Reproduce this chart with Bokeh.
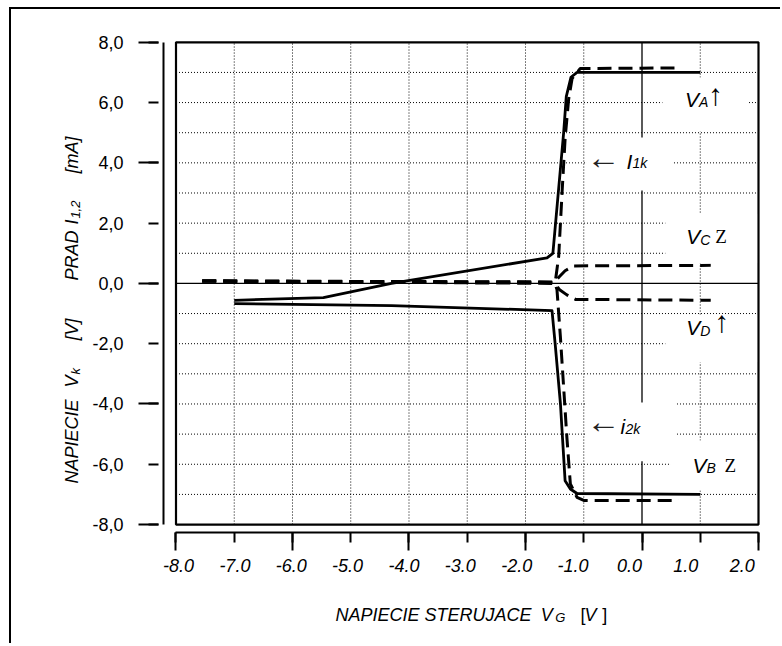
import math
from bokeh.plotting import figure
from bokeh.models import LinearAxis, FixedTicker, Range1d, Label, BoxAnnotation
from bokeh.embed import file_html
from bokeh.resources import INLINE

# ---------------- data ----------------
x_ticks = [-8, -7, -6, -5, -4, -3, -2, -1, 0, 1, 2]
x_tick_labels = ["-8.0", "-7.0", "-6.0", "-5.0", "-4.0", "-3.0", "-2.0", "-1.0", "0.0", "1.0", "2.0"]
x_long_ticks = [-8, -6, -4, -2, 0, 2]
y_ticks = [8, 6, 4, 2, 0, -2, -4, -6, -8]
y_tick_labels = ["8,0", "6,0", "4,0", "2,0", "0,0", "-2,0", "-4,0", "-6,0", "-8,0"]
y_long_ticks = [8, 4, 0, -4, -8]
grid_x = [-7, -6, -5, -4, -3, -2, -1, 1]
grid_y = [7, 6, 5, 4, 3, 2, 1, -1, -2, -3, -4, -5, -6, -7]

# solid: currents I1k, i2k  (mA)
i1k_vg = [-7.0, -5.47, -4.3, -1.63, -1.53, -1.345, -1.30, -1.22, -1.115, 1.0]
i1k_val = [-0.56, -0.47, 0.0, 0.85, 1.0, 5.0, 6.2, 6.84, 7.0, 7.0]
i2k_vg = [-7.0, -4.3, -1.545, -1.49, -1.40, -1.32, -1.23, -1.115, 1.0]
i2k_val = [-0.67, -0.74, -0.9, -2.02, -4.0, -6.55, -6.82, -6.97, -7.0]
# dashed: voltages VA, VB, VC, VD (V)
va_vg = [-7.55, -1.49, -1.43, -1.37, -1.32, -1.26, -1.2, -1.06, 0.63]
va_val = [0.08, 0.03, 0.9, 3.1, 4.8, 6.1, 6.8, 7.13, 7.15]
vb_vg = [-7.55, -1.5, -1.46, -1.40, -1.345, -1.29, -1.23, -1.115, -1.0, 0.63]
vb_val = [0.08, 0.03, -0.2, -1.8, -3.45, -5.1, -6.65, -7.1, -7.2, -7.2]
vc_vg = [-7.55, -1.5, -1.42, -1.32, -1.17, 1.18]
vc_val = [0.08, 0.05, 0.22, 0.42, 0.58, 0.6]
vd_vg = [-7.55, -1.5, -1.42, -1.29, -1.14, 1.18]
vd_val = [0.08, 0.0, -0.2, -0.38, -0.53, -0.56]

# ---------------- figure ----------------
# the frame fills the whole canvas; axes are placed with fixed_location
p = figure(width=771, height=636,
           x_range=Range1d(-10.824, 2.412), y_range=Range1d(-12.013, 9.088),
           output_backend="svg", toolbar_location=None,
           x_axis_location=None, y_axis_location=None,
           min_border_left=0, min_border_right=0,
           min_border_top=0, min_border_bottom=0)
p.extra_x_ranges = {"lab": Range1d(-10.963, 2.715)}
p.outline_line_color = None
p.background_fill_color = "white"
p.border_fill_color = "white"
p.grid.visible = False
p.styles = {"margin-left": "9px", "margin-top": "7px",
            "border-top": "2px solid black", "border-left": "2px solid black"}

FONT = "Liberation Sans"
SERIF = "Liberation Serif"

xmin, xmax = min(x_ticks), max(x_ticks)
ymin, ymax = min(y_ticks), max(y_ticks)

# y axis
yax = LinearAxis(ticker=FixedTicker(ticks=y_ticks, minor_ticks=y_long_ticks),
                 bounds=(ymin, ymax), fixed_location=-8.215)
yax.major_label_overrides = dict(zip(y_ticks, y_tick_labels))
yax.axis_line_width = 2
yax.major_tick_in = -5
yax.major_tick_out = 15
yax.minor_tick_in = -5
yax.minor_tick_out = 25
yax.major_tick_line_width = 2
yax.minor_tick_line_width = 2
yax.major_label_standoff = 15
yax.major_label_text_font = FONT
yax.major_label_text_font_size = "18px"
yax.major_label_text_color = "black"
p.add_layout(yax, "left")

# x axis (line and ticks)
xax = LinearAxis(ticker=FixedTicker(ticks=x_ticks, minor_ticks=x_long_ticks),
                 bounds=(xmin, xmax), fixed_location=-8.275)
xax.axis_line_width = 2
xax.major_tick_in = 0
xax.major_tick_out = 10
xax.minor_tick_in = 0
xax.minor_tick_out = 18
xax.major_tick_line_width = 2
xax.minor_tick_line_width = 2
xax.major_label_text_color = None
p.add_layout(xax, "below")

# x axis (tick labels, as placed in the original)
xlab = LinearAxis(x_range_name="lab", ticker=FixedTicker(ticks=x_ticks, minor_ticks=[]),
                  fixed_location=-8.275)
xlab.major_label_overrides = dict(zip(x_ticks, x_tick_labels))
xlab.axis_line_color = None
xlab.major_tick_line_color = None
xlab.minor_tick_line_color = None
xlab.major_tick_in = 0
xlab.major_tick_out = 0
xlab.major_label_standoff = 26
xlab.major_label_text_font = FONT
xlab.major_label_text_font_style = "italic"
xlab.major_label_text_font_size = "18px"
xlab.major_label_text_color = "black"
p.add_layout(xlab, "below")

# grid (dotted) inside the box
p.segment(x0=grid_x, y0=[ymin] * len(grid_x), x1=grid_x, y1=[ymax] * len(grid_x),
          line_color="black", line_width=1, line_dash="1 2")
p.segment(x0=[xmin] * len(grid_y), y0=grid_y, x1=[xmax] * len(grid_y), y1=grid_y,
          line_color="black", line_width=1, line_dash="1 2")
# zero lines
p.segment(x0=[0, xmin], y0=[ymin, 0], x1=[0, xmax], y1=[ymax, 0],
          line_color="black", line_width=1.3)

# curves
for xs, ys in [(i1k_vg, i1k_val), (i2k_vg, i2k_val)]:
    p.line(xs, ys, line_color="black", line_width=2.8, line_join="round")
for xs, ys in [(va_vg, va_val), (vb_vg, vb_val), (vc_vg, vc_val), (vd_vg, vd_val)]:
    p.line(xs, ys, line_color="black", line_width=3, line_dash="14 7", line_join="round")

# box
p.quad(left=[xmin], right=[xmax], bottom=[ymin], top=[ymax],
       fill_color=None, line_color="black", line_width=2.2)

# white masks behind the annotations
masks = [(0.35, 1.83, 5.04, 6.83),
         (-0.953, 0.524, 3.08, 4.84),
         (0.40, 1.975, 0.66, 2.32),
         (0.40, 1.975, -2.62, -1.04),
         (-0.953, 0.575, -5.9, -3.95),
         (0.49, 1.975, -6.87, -5.21)]
for l, r, b, t in masks:
    p.add_layout(BoxAnnotation(left=l, right=r, bottom=b, top=t,
                               fill_color="white", fill_alpha=1.0, line_color=None))


def txt(x, y, s, size, style="italic", font=FONT, xo=0, yo=0, angle=0.0,
        color="black", baseline="alphabetic"):
    # small correction of the renderer's baseline placement
    if angle:
        xo -= 8
    else:
        yo += 7
    p.add_layout(Label(x=x, y=y, text=s, x_offset=xo, y_offset=yo, angle=angle,
                       text_font=font, text_font_size=f"{size}px", text_font_style=style,
                       text_color=color, text_align="left", text_baseline=baseline))


# curve annotations
txt(0.74, 5.87, "V", 21); txt(0.74, 5.87, "A", 14, xo=14, yo=-3)
txt(0.74, 6.05, "\u2191", 30, style="normal", font=SERIF, xo=23, baseline="middle")

txt(-0.833, 3.95, "\u2190", 34, style="normal", font=SERIF, color="#222222",
    xo=-7, baseline="middle")
txt(-0.265, 3.82, "I", 21); txt(-0.265, 3.82, "1k", 14, xo=6, yo=-2)

txt(0.76, 1.33, "V", 21); txt(0.76, 1.33, "C", 14, xo=14, yo=-4)
txt(0.76, 1.33, "Z", 19, style="normal", font=SERIF, xo=29)

txt(0.76, -1.705, "V", 21); txt(0.76, -1.705, "D", 14, xo=14, yo=-3)
txt(0.76, -1.5, "\u2191", 30, style="normal", font=SERIF, xo=28, baseline="middle")

txt(-0.833, -4.81, "\u2190", 34, style="normal", font=SERIF, color="#222222",
    xo=-7, baseline="middle")
txt(-0.369, -4.99, "i", 21); txt(-0.369, -4.99, "2k", 14, xo=5, yo=-2)

txt(0.867, -6.26, "V", 21); txt(0.867, -6.26, "B", 14, xo=14, yo=-2.5)
txt(0.867, -6.26, "Z", 19, style="normal", font=SERIF, xo=32)

# y axis title (rotated)
A = math.pi / 2
YX = -9.648
txt(YX, -6.64, "NAPIECIE", 18, angle=A)
txt(YX, -3.454, "V", 18, angle=A)
txt(YX, -3.02, "k", 13, angle=A, xo=3)
txt(YX, -1.894, "[V]", 18, angle=A)
txt(YX, 0.096, "PRAD", 18, angle=A)
txt(YX, 1.954, "I", 18, angle=A)
txt(YX, 2.15, "1,2", 13, angle=A, xo=3)
txt(YX, 3.646, "[mA]", 18, angle=A)

# x axis title
XY = -11.24
txt(-5.262, XY, "NAPIECIE STERUJACE", 18)
txt(-1.74, XY, "V", 18)
txt(-1.49, XY, "G", 13, yo=-2)
txt(-1.056, XY, "[", 18, style="normal")
txt(-0.987, XY, "V", 18)
txt(-0.683, XY, "]", 18, style="normal")

open("out.html", "w").write(file_html(p, INLINE))
